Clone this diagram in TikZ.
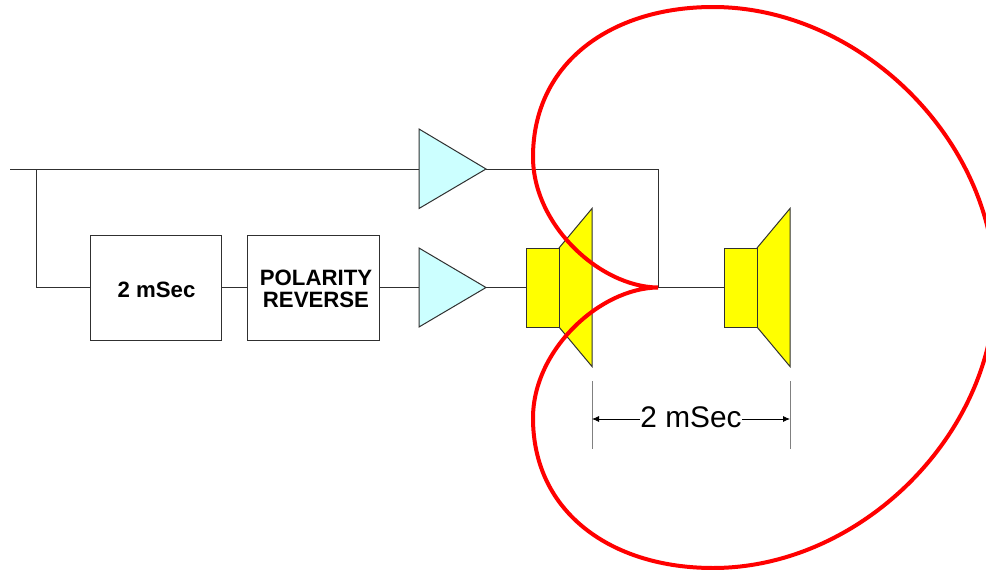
\documentclass[tikz,border=0pt]{standalone}
\usepackage{fontspec}
\setmainfont{Liberation Sans}
\usetikzlibrary{arrows.meta}
\definecolor{wire}{HTML}{303030}
\definecolor{ampfill}{HTML}{CCFFFF}
\definecolor{pat}{HTML}{FF0000}
\definecolor{spkfill}{HTML}{FFFF00}
\tikzset{
 wireline/.style={draw=wire,line width=1pt},
 blockbox/.style={draw=wire,line width=1pt,fill=white,inner sep=0pt,minimum height=105pt},
 blocktext/.style={font=\bfseries\fontsize{22.2}{22.7}\selectfont,align=center,inner sep=0pt},
 ampshape/.style={draw=wire,line width=1pt,fill=ampfill,line join=miter},
 spk/.style={draw=wire,line width=1pt,fill=spkfill,line join=miter},
 patt/.style={draw=pat,line width=4pt,line join=round},
 dimtick/.style={draw=gray,line width=1pt},
 dimarrow/.style={draw=black,line width=0.8pt,{Latex[length=7pt,width=6pt]}-{Latex[length=7pt,width=6pt]}}
}
\begin{document}
\begin{tikzpicture}[x=1pt,y=-1pt]
\useasboundingbox (0,0) rectangle (986,570);
\fill[white] (0,0) rectangle (986,570);
\coordinate (in) at (10,169);
\coordinate (tee) at (36,169);
\coordinate (low) at (36,287.5);
\coordinate (a1in) at (419,169);
\coordinate (a1out) at (486,169);
\coordinate (a2in) at (419,287.5);
\coordinate (a2out) at (486,287.5);
\coordinate (s1in) at (526,287.5);
\coordinate (s2in) at (724,287.5);
\coordinate (corner) at (658,169);
\coordinate (cusp) at (658,287.5);
\node[blockbox,minimum width=131pt] (d) at (155.5,287.5) {};
\node[blockbox,minimum width=132pt] (p) at (313.8,287.5) {};
\node[blocktext] (dt) at (156.5,289.5) {2 mSec};
\node[blocktext] (pt) at (316,289) {POLARITY\\REVERSE};
\draw[wireline] (in) -- (a1in);
\draw[wireline] (tee) -- (low) -- (d.west);
\draw[wireline] (d.east) -- (p.west);
\draw[wireline] (p.east) -- (a2in);
\draw[wireline] (a1out) -- (corner) -- (cusp);
\draw[wireline] (a2out) -- (s1in);
\draw[wireline] (cusp) -- (s2in);
\draw[ampshape] (419,129) -- (486,169) -- (419,208.5) -- cycle;
\draw[ampshape] (419,248) -- (486,287.5) -- (419,327) -- cycle;
\draw[spk] (559,248) -- (592,208.5) -- (592,366.5) -- (559,327) -- cycle;
\draw[spk] (526,248) rectangle (559,327);
\draw[spk] (757,248) -- (790,208.5) -- (790,366.5) -- (757,327) -- cycle;
\draw[spk] (724,248) rectangle (757,327);
\coordinate (dl1) at (592,381);\coordinate (dl2) at (592,449);
\coordinate (dr1) at (790,381);\coordinate (dr2) at (790,449);
\draw[dimtick] (dl1) -- (dl2);
\draw[dimtick] (dr1) -- (dr2);
\coordinate (al) at (592,419);\coordinate (ar) at (790,419);
\draw[dimarrow] (al) -- (ar);
\node[fill=white,inner xsep=0pt,inner ysep=0pt,font=\fontsize{29.8}{31}\selectfont] (dim) at (691,417) {2 mSec};
\begin{scope}
\clip (0,0) rectangle (986,570);
\draw[patt] (cusp)
 .. controls (600,287) and (533,225) .. (533,157)
 .. controls (533,62) and (612,7) .. (713,7)
 .. controls (860,7) and (995,140) .. (995,287.5)
 .. controls (995,435) and (860,568) .. (713,568)
 .. controls (612,568) and (533,513) .. (533,418)
 .. controls (533,350) and (600,288) .. (cusp);
\end{scope}
\end{tikzpicture}
\end{document}
